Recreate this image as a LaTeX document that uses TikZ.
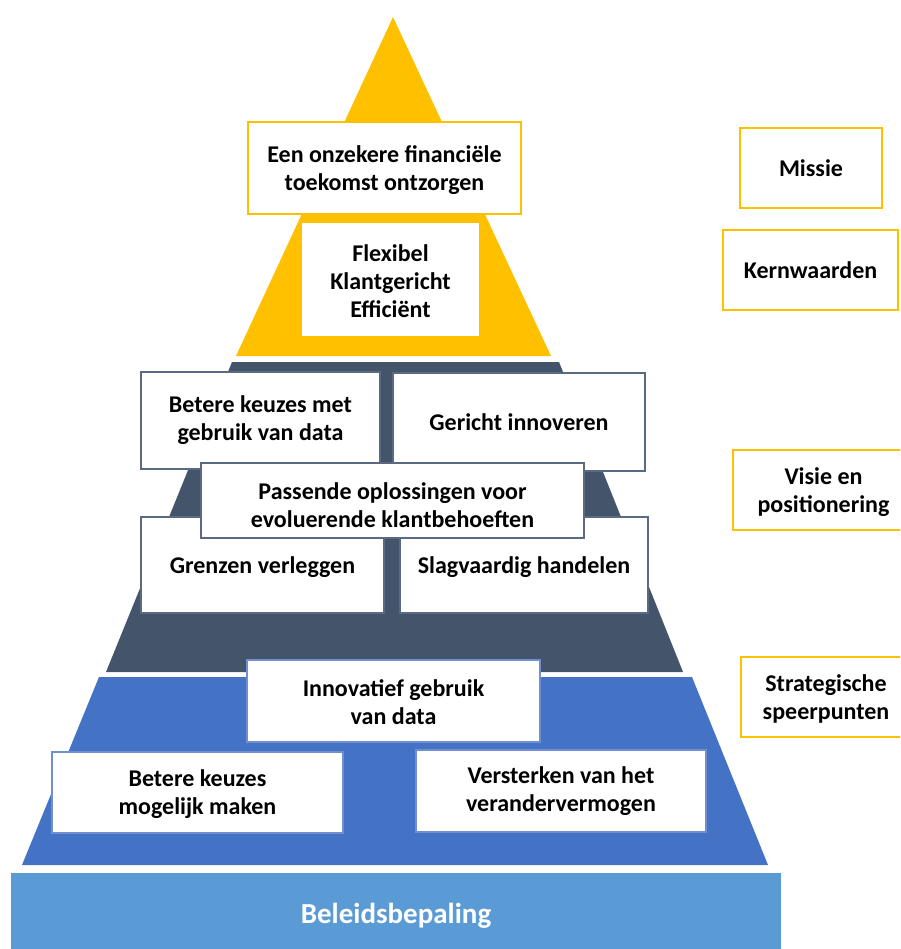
\documentclass[tikz,border=0pt]{standalone}
\usepackage{fontspec}
\setmainfont{Carlito}
\definecolor{pyellow}{HTML}{FFC000}
\definecolor{pslate}{HTML}{44546A}
\definecolor{pslateline}{HTML}{5A6A82}
\definecolor{pblue}{HTML}{4472C4}
\definecolor{pblueline}{HTML}{6F8FD0}
\definecolor{plblue}{HTML}{5B9BD5}
\begin{document}
\begin{tikzpicture}[x=1pt,y=-1pt,
  every node/.style={font=\fontsize{24}{28}\selectfont\bfseries, align=center, inner sep=0pt, outer sep=0pt},
  box/.style={rectangle, fill=white, line width=1.5pt},
  ybox/.style={box, draw=pyellow},
  dbox/.style={box, draw=pslateline},
  bbox/.style={box, draw=pblueline, line width=1.2pt}]
\clip (0,0) rectangle (900,949);
\fill[white] (0,0) rectangle (900,949);
% pyramid layers
\fill[pyellow] (393,17) -- (551,356) -- (236,356) -- cycle;
\fill[pslate] (232,362) -- (559,362) -- (683,672) -- (106,672) -- cycle;
\fill[pblue] (99,677) -- (692,677) -- (768,865) -- (22,865) -- cycle;
\fill[plblue] (11,873) rectangle (781,960);
\node[text=white, font=\fontsize{29}{34}\selectfont\bfseries] (beleid) at (396,916) {Beleidsbepaling};
% top
\node[ybox, minimum width=273, minimum height=92] (missiebox) at (384.5,168) {};
\node (missietxt) at (384.5,170) {Een onzekere financiële\\toekomst ontzorgen};
\node[ybox, minimum width=179, minimum height=115] (kernbox) at (390.5,279.5) {};
\node (kerntxt) at (390.5,281) {Flexibel\\Klantgericht\\Efficiënt};
% visie
\node[dbox, minimum width=239, minimum height=97] (beterea) at (260.5,420.5) {Betere keuzes met\\gebruik van data};
\node[dbox, minimum width=252, minimum height=98] (gericht) at (519,422) {Gericht innoveren};
\node[dbox, minimum width=243, minimum height=96] (grenzen) at (262.5,565) {};
\node (grenzentxt) at (262.5,567) {Grenzen verleggen};
\node[dbox, minimum width=248, minimum height=96] (slag) at (524,565) {};
\node (slagtxt) at (524,567) {Slagvaardig handelen};
\node[dbox, minimum width=383, minimum height=75] (passende) at (392.5,500.5) {};
\node (passendetxt) at (392.5,505) {Passende oplossingen voor\\evoluerende klantbehoeften};
% strategie
\node[bbox, minimum width=293, minimum height=82] (innov) at (393.5,701) {};
\node (innovtxt) at (393.5,702) {Innovatief gebruik\\van data};
\node[bbox, minimum width=291, minimum height=81] (btereb) at (197.5,792.5) {};
\node (beterebtxt) at (197.5,794) {Betere keuzes\\mogelijk maken};
\node[bbox, minimum width=290, minimum height=82] (versterken) at (561,791) {Versterken van het\\verandervermogen};
% right labels
\node[ybox, minimum width=142, minimum height=80] (lmissie) at (811,168) {Missie};
\node[ybox, minimum width=175, minimum height=80] (lkern) at (810.5,270) {Kernwaarden};
\node[ybox, minimum width=181, minimum height=80] (lvisie) at (823.5,490) {};
\node (lvisietxt) at (823.5,492) {Visie en\\positionering};
\node[ybox, minimum width=170, minimum height=80] (lstrat) at (826,697) {};
\node (lstrattxt) at (826,699) {Strategische\\speerpunten};
\end{tikzpicture}
\end{document}
